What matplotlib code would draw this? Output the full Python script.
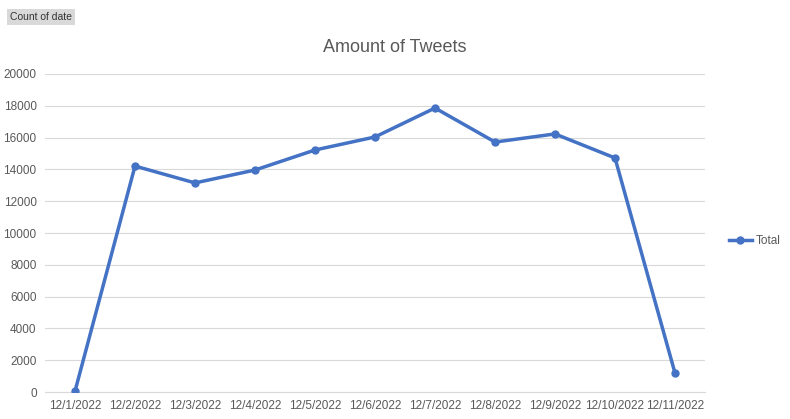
import matplotlib
matplotlib.use("Agg")
import matplotlib.pyplot as plt
from matplotlib.lines import Line2D

dates = ["12/1/2022","12/2/2022","12/3/2022","12/4/2022","12/5/2022","12/6/2022",
         "12/7/2022","12/8/2022","12/9/2022","12/10/2022","12/11/2022"]
totals = [50, 14210, 13150, 13960, 15220, 16040, 17860, 15720, 16230, 14720, 1190]
yticks = list(range(0, 20001, 2000))

plt.rcParams['font.family'] = ['Liberation Sans', 'DejaVu Sans']
fig = plt.figure(figsize=(7.9, 4.19), dpi=100)
ax = fig.add_axes([45/790, 1-392/419, 660/790, (392-74)/419])
color = "#4472C4"
x = list(range(len(dates)))
ax.plot(x, totals, color=color, lw=2.5, marker='o', ms=5, zorder=3)
ax.set_xlim(-0.5, len(dates)-0.5)
ax.set_ylim(0, 20000)
ax.set_yticks(yticks)
ax.set_yticklabels([str(v) for v in yticks], fontsize=8.5, color="#595959")
ax.set_xticks(x)
ax.set_xticklabels(dates, fontsize=8.5, color="#595959")
ax.grid(axis='y', color="#D9D9D9", lw=0.8)
ax.set_axisbelow(True)
for s in ['top', 'right', 'left']:
    ax.spines[s].set_visible(False)
ax.spines['bottom'].set_color("#D9D9D9")
ax.tick_params(length=0, pad=6)
fig.text(395/790, 1-47/419, "Amount of Tweets", ha='center', va='center', fontsize=13, color="#595959")
fig.text(10/790, 1-17/419, "Count of date", ha='left', va='center', fontsize=7.5, color="#333333",
         bbox=dict(boxstyle='square,pad=0.3', fc="#D9D9D9", ec="none"))
h = Line2D([], [], color=color, lw=2.5, marker='o', ms=5)
fig.legend([h], ["Total"], loc='center left', bbox_to_anchor=(718/790, 1-241/419),
           frameon=False, fontsize=8.5, handlelength=2, labelcolor="#595959", handletextpad=0.3)
fig.savefig("out.png", dpi=100)
